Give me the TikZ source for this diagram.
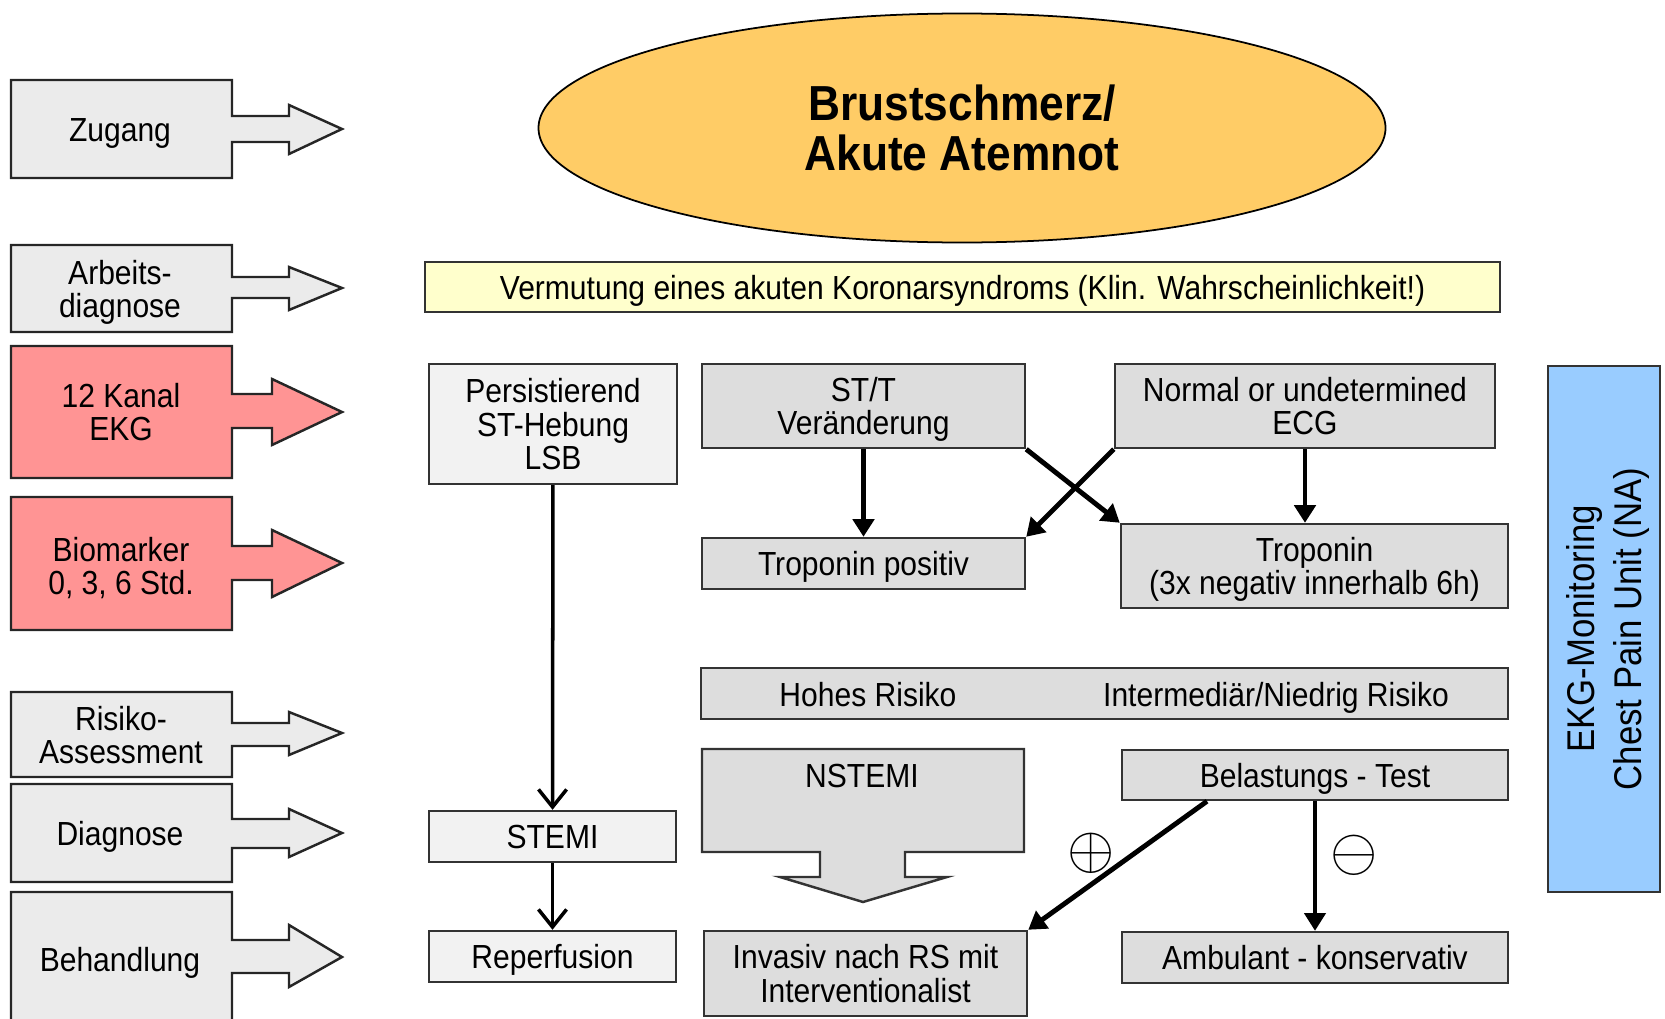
\documentclass[tikz,border=0pt]{standalone}
\usepackage{fontspec}
\setmainfont{Liberation Sans}[FakeStretch=0.9]
\usetikzlibrary{arrows.meta,shapes.geometric}

\definecolor{pgrey}{HTML}{EBEBEB}
\definecolor{palert}{HTML}{FF9494}
\definecolor{sun}{HTML}{FFCC66}
\definecolor{paleyellow}{HTML}{FFFFCC}
\definecolor{plight}{HTML}{F2F2F2}
\definecolor{pmid}{HTML}{DDDDDD}
\definecolor{sky}{HTML}{99CCFF}

\begin{document}
\begin{tikzpicture}[font=\fontsize{9.5}{9.6}\selectfont, every node/.style={text depth=0pt},
    phasegrey/.style={draw=black!85, line width=0.7pt, fill=pgrey},
    phasealert/.style={draw=black!85, line width=0.7pt, fill=palert},
    lightcell/.style={draw=black!80, line width=0.7pt, fill=plight, inner sep=0pt, align=center},
    greycell/.style={draw=black!80, line width=0.7pt, fill=pmid, inner sep=0pt, align=center},
    heavy/.style={line width=1.4pt, -{Triangle[length=5pt,width=6pt]}},
    slim/.style={line width=1pt, -{Straight Barb[length=5pt,width=8pt]}}]
        \clip (0,0) rectangle (16.65,-10.19);

        % phases on the left
        \draw[phasegrey] (0.11,-0.80) -| (2.32,-1.16) -| (2.89,-1.05) -- (3.42,-1.29) -- (2.89,-1.54) |- (2.32,-1.42) |- (0.11,-1.78) -- cycle;
        \node (zugang) at (1.20,-1.30) {Zugang};
        \draw[phasegrey] (0.11,-2.45) -| (2.32,-2.77) -| (2.89,-2.67) -- (3.42,-2.88) -- (2.89,-3.10) |- (2.32,-2.98) |- (0.11,-3.32) -- cycle;
        \node[align=center] (arbeit) at (1.20,-2.89) {Arbeits-\\diagnose};
        \draw[phasealert] (0.11,-3.46) -| (2.32,-3.94) -| (2.72,-3.79) -- (3.42,-4.12) -- (2.72,-4.45) |- (2.32,-4.28) |- (0.11,-4.78) -- cycle;
        \node[align=center] (ekg) at (1.21,-4.12) {12 Kanal\\EKG};
        \draw[phasealert] (0.11,-4.97) -| (2.32,-5.46) -| (2.72,-5.30) -- (3.42,-5.63) -- (2.72,-5.97) |- (2.32,-5.80) |- (0.11,-6.30) -- cycle;
        \node[align=center] (bio) at (1.21,-5.66) {Biomarker\\0, 3, 6 Std.};
        \draw[phasegrey] (0.11,-6.92) -| (2.32,-7.23) -| (2.89,-7.12) -- (3.42,-7.33) -- (2.89,-7.55) |- (2.32,-7.46) |- (0.11,-7.77) -- cycle;
        \node[align=center] (risiko) at (1.21,-7.35) {Risiko-\\Assessment};
        \draw[phasegrey] (0.11,-7.84) -| (2.32,-8.19) -| (2.89,-8.09) -- (3.42,-8.33) -- (2.89,-8.57) |- (2.32,-8.48) |- (0.11,-8.82) -- cycle;
        \node (diag) at (1.20,-8.33) {Diagnose};
        \draw[phasegrey] (0.11,-8.92) -| (2.32,-9.40) -| (2.89,-9.25) -- (3.42,-9.57) -- (2.89,-9.87) |- (2.32,-9.73) |- (0.11,-10.25) -- cycle;
        \node (behand) at (1.20,-9.59) {Behandlung};

        % top
        \node[ellipse, draw, line width=0.5pt, fill=sun, minimum width=8.47cm, minimum height=2.29cm, align=center, font=\bfseries\fontsize{14}{14.2}\selectfont] (chest) at (9.62,-1.28) {Brustschmerz/\\Akute Atemnot};
        \node[draw=black!80, line width=0.7pt, fill=paleyellow, minimum width=10.75cm, minimum height=0.50cm, inner sep=0pt] (acs) at (9.625,-2.87) {Vermutung eines akuten Koronarsyndroms (Klin. Wahrscheinlichkeit!)};

        % ECG and troponin
        \node[lightcell, minimum width=2.48cm, minimum height=1.20cm] (pers) at (5.53,-4.24) {Persistierend\\ST-Hebung\\LSB};
        \node[greycell, minimum width=3.23cm, minimum height=0.84cm] (stt) at (8.635,-4.06) {ST/T\\Veränderung};
        \node[greycell, minimum width=3.80cm, minimum height=0.84cm] (ecg) at (13.05,-4.06) {Normal or undetermined\\ECG};
        \node[greycell, minimum width=3.23cm, minimum height=0.51cm] (tpos) at (8.635,-5.635) {Troponin positiv};
        \node[greycell, minimum width=3.87cm, minimum height=0.84cm] (tneg) at (13.145,-5.66) {Troponin\\(3x negativ innerhalb 6h)};

        % risk
        \node[greycell, minimum width=8.07cm, minimum height=0.51cm] (risk) at (11.045,-6.935) {};
        \node[anchor=base] (hoch) at (8.68,-7.06) {Hohes Risiko};
        \node[anchor=base] (niedrig) at (12.76,-7.06) {Intermediär/Niedrig Risiko};

        % diagnosis and treatment
        \draw[draw=black!80, line width=0.7pt, fill=pmid] (7.02,-7.49) -- (10.24,-7.49) -- (10.24,-8.52) -- (9.05,-8.52) -- (9.05,-8.77) -- (9.47,-8.77) -- (8.63,-9.02) -- (7.80,-8.77) -- (8.20,-8.77) -- (8.20,-8.52) -- (7.02,-8.52) -- cycle;
        \node (nstemi) at (8.62,-7.76) {NSTEMI};
        \node[greycell, minimum width=3.86cm, minimum height=0.50cm] (belast) at (13.15,-7.75) {Belastungs - Test};
        \node[greycell, minimum width=3.86cm, minimum height=0.51cm] (amb) at (13.15,-9.575) {Ambulant - konservativ};
        \node[greycell, minimum width=3.23cm, minimum height=0.85cm] (inv) at (8.655,-9.735) {Invasiv nach RS mit\\Interventionalist};
        \node[lightcell, minimum width=2.47cm, minimum height=0.51cm] (stemi) at (5.525,-8.365) {STEMI};
        \node[lightcell, minimum width=2.47cm, minimum height=0.51cm] (reperf) at (5.525,-9.565) {Reperfusion};

        \node[draw=black!80, line width=0.7pt, fill=sky, rotate=90, minimum width=5.26cm, minimum height=1.12cm, inner sep=0pt, align=center, font=\fontsize{11}{13.6}\selectfont] (cpu) at (16.04,-6.29) {EKG-Monitoring\\Chest Pain Unit (NA)};

        \draw[heavy] (stt) -- (tpos);
        \draw[heavy] (ecg.south) -- (ecg.south |- tneg.north);
        \draw[heavy] (stt.south east) -- (tneg.north west);
        \draw[heavy] (ecg.south west) -- (tpos.north east);
        \draw[slim] (pers) -- (stemi);
        \draw[slim] (stemi) -- (reperf);
        \draw[heavy] ([xshift=-1.08cm]belast.south) -- (inv.north east);
        \draw[line width=1pt, -{Triangle[length=5pt,width=6pt]}] (belast.south) -- (belast.south |- amb.north);
        \node[font=\fontsize{18}{18}\selectfont] (plus) at (10.91,-8.51) {$\oplus$};
        \node[font=\fontsize{18}{18}\selectfont] (minus) at (13.54,-8.53) {$\ominus$};
    \end{tikzpicture}
\end{document}
